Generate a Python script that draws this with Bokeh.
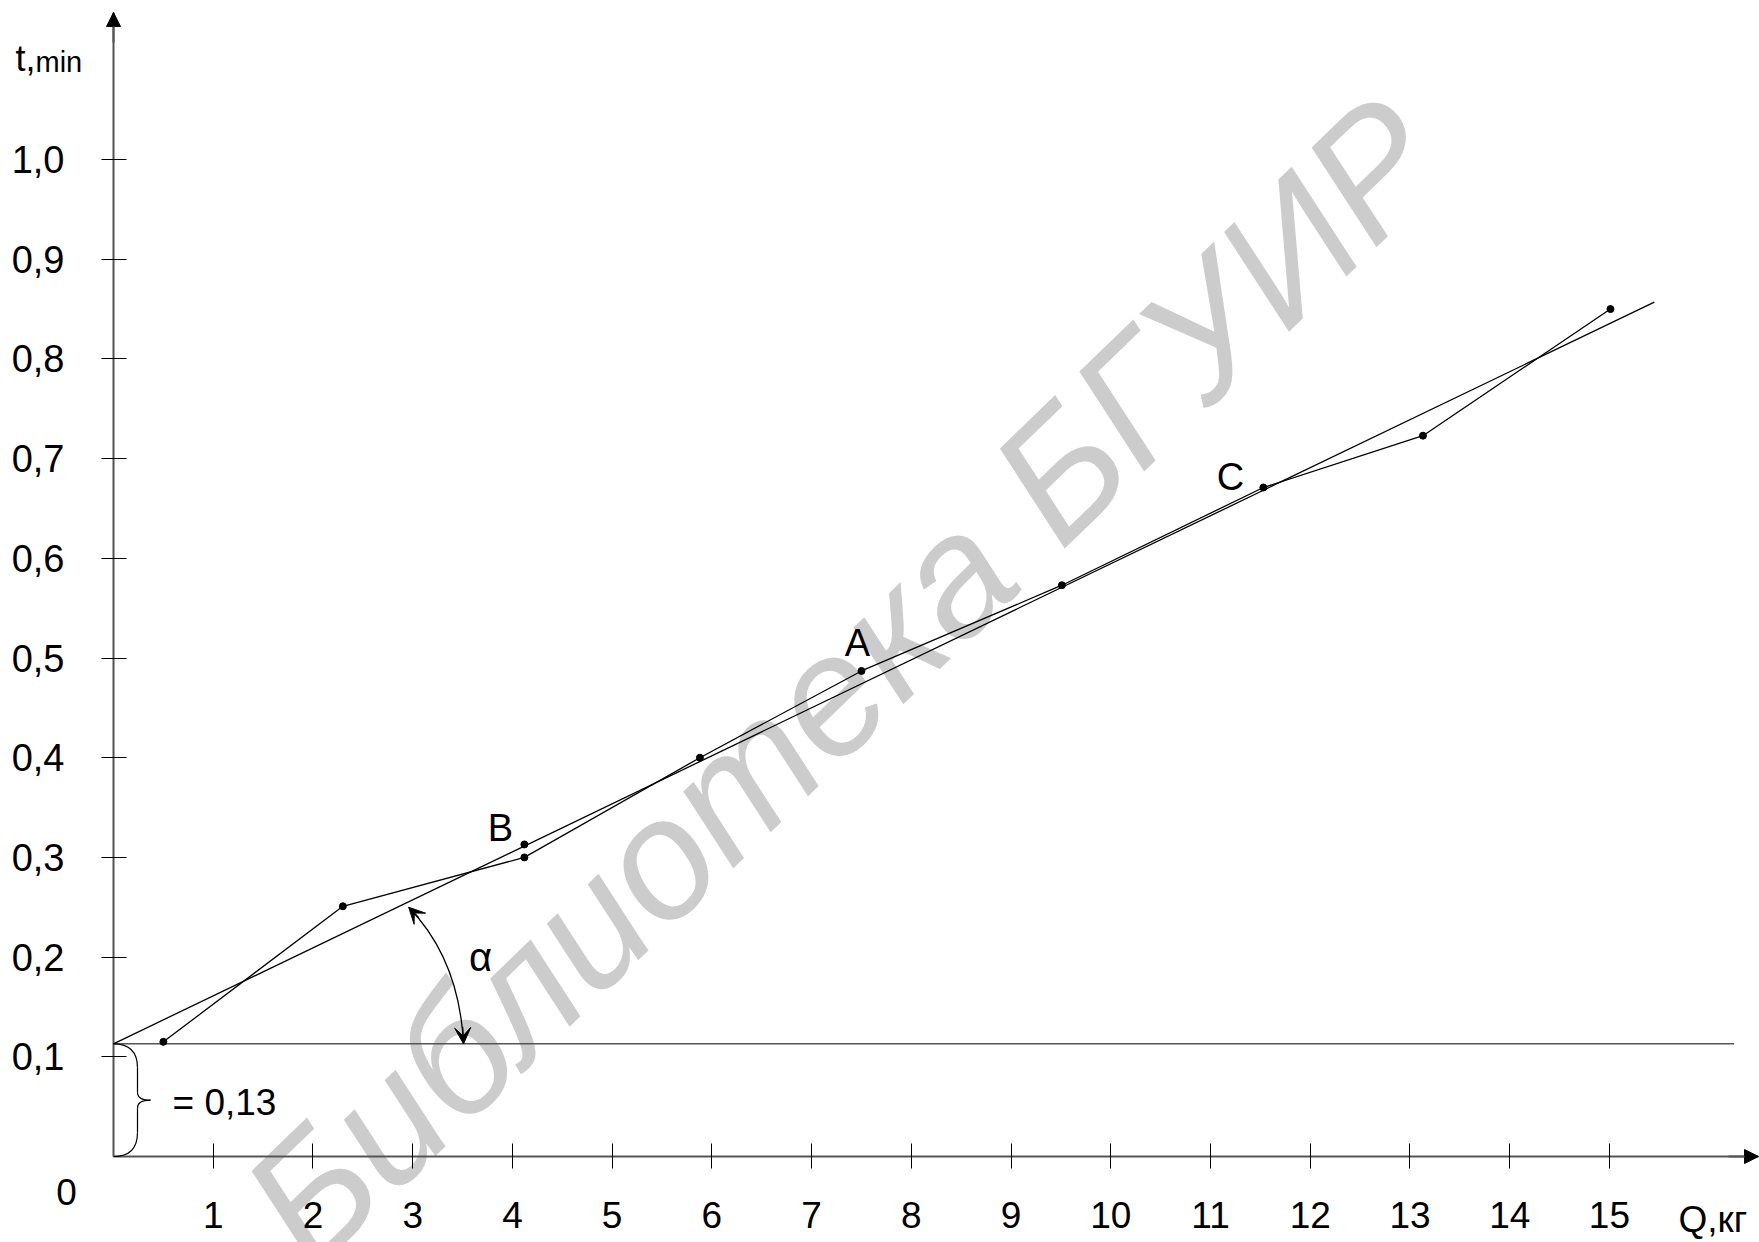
from bokeh.plotting import figure
from bokeh.models import Range1d, LinearAxis, FixedTicker, Label, Arrow, NormalHead, VeeHead
from bokeh.embed import file_html
from bokeh.resources import INLINE

# ---------------- data ----------------
Q_meas = [0.5, 2.3, 4.12, 5.88, 7.5, 9.51, 11.53, 13.13, 15.01]
t_meas = [0.115, 0.251, 0.300, 0.400, 0.487, 0.573, 0.671, 0.723, 0.850]
Q_fit = [0.0, 15.45]
t_fit = [0.113, 0.857]
t0 = 0.113            # intercept (baseline)
Q_base_end = 16.25
Q_B = [4.12]
t_B = [0.313]
# point labels: (text, Q, t, dx px, dy px up)
label_names = ["A", "B", "C"]
label_Q = [Q_meas[4], Q_B[0], Q_meas[6]]
label_t = [t_meas[4], t_B[0], t_meas[6]]
label_dx = [-4, -24, -33]
label_dy = [28, 16, 11]

x_ticks = list(range(1, 16))
y_ticks = [round(k / 10, 1) for k in range(1, 11)]
y_tick_labels = ["0,1", "0,2", "0,3", "0,4", "0,5", "0,6", "0,7", "0,8", "0,9", "1,0"]

FONT = "Liberation Sans"
AXIS_COL = "#555555"

W, H = 1759, 1242
OX, OY = 113, 1156      # origin position on canvas (px)
PX_X = 99.73            # px per unit Q
PX_Y = 997.0            # px per unit t
x_start, x_end = -OX / PX_X, (W - OX) / PX_X
y_start, y_end = -(H - OY) / PX_Y, OY / PX_Y
t_top = (OY - 12) / PX_Y     # y-axis arrow tip
Q_tip = (W - 1 - OX) / PX_X  # x-axis arrow tip

p = figure(width=W, height=H, x_range=Range1d(x_start, x_end), y_range=Range1d(y_start, y_end),
           output_backend="svg", toolbar_location=None,
           x_axis_type=None, y_axis_type=None,
           min_border_left=0, min_border_right=0, min_border_top=0, min_border_bottom=0)
p.grid.visible = False
p.outline_line_color = None
p.background_fill_color = "white"
p.border_fill_color = "white"

# watermark
wm = Label(x=7.31, y=0.477, text="Библиотека БГУИР", angle=44, angle_units="deg",
           text_align="center", text_baseline="middle", text_font=FONT,
           text_font_style="italic", text_font_size="170px", text_color="#cccccc",
           level="underlay")
p.add_layout(wm)

# axes (ticks and tick labels), placed at the origin
xaxis = LinearAxis(ticker=FixedTicker(ticks=x_ticks), fixed_location=0,
                   axis_line_color=None,
                   major_tick_in=13, major_tick_out=12,
                   major_tick_line_color="black", major_tick_line_width=1,
                   minor_tick_line_color=None,
                   major_label_text_font=FONT, major_label_text_font_size="37px",
                   major_label_text_color="black", major_label_standoff=33)
p.add_layout(xaxis, "below")

yaxis = LinearAxis(ticker=FixedTicker(ticks=y_ticks), fixed_location=0,
                   major_label_overrides={v: s for v, s in zip(y_ticks, y_tick_labels)},
                   axis_line_color=None,
                   major_tick_in=13, major_tick_out=12,
                   major_tick_line_color="black", major_tick_line_width=1,
                   minor_tick_line_color=None,
                   major_label_text_font=FONT, major_label_text_font_size="38px",
                   major_label_text_color="black", major_label_standoff=37)
p.add_layout(yaxis, "left")

# axis lines with arrow heads
p.segment(x0=[0, 0], y0=[0, 0], x1=[0, Q_tip], y1=[t_top, 0], line_color=AXIS_COL, line_width=2)
p.add_layout(Arrow(x_start=0, y_start=t_top - 0.03, x_end=0, y_end=t_top,
                   line_color=AXIS_COL, line_width=2,
                   end=NormalHead(size=14, fill_color="black", line_color="black")))
p.add_layout(Arrow(x_start=Q_tip - 0.3, y_start=0, x_end=Q_tip, y_end=0,
                   line_color=AXIS_COL, line_width=2,
                   end=NormalHead(size=14, fill_color="black", line_color="black")))

# baseline
p.segment(x0=[0], y0=[t0], x1=[Q_base_end], y1=[t0], line_color=AXIS_COL, line_width=1.5)

# fitted line and measured polyline
p.line(Q_fit, t_fit, line_color="black", line_width=1.3)
p.line(Q_meas, t_meas, line_color="black", line_width=1.3)
p.scatter(Q_meas, t_meas, size=7, color="black")
p.scatter(Q_B, t_B, size=7, color="black")

for name, q, t, dx, dy in zip(label_names, label_Q, label_t, label_dx, label_dy):
    p.add_layout(Label(x=q, y=t, x_offset=dx, y_offset=dy, text=name,
                       text_align="center", text_baseline="middle",
                       text_font=FONT, text_font_size="38px", text_color="black"))

# brace for intercept
bx = 24 / PX_X
tipx = 37 / PX_X
r = 24 / PX_Y
mid = t0 / 2
k = 8 / PX_Y
brace_kw = dict(line_color="black", line_width=1.2)
p.quadratic(x0=[0, bx], y0=[t0, mid + k], x1=[bx, tipx], y1=[t0 - r, mid],
            cx=[bx, bx], cy=[t0, mid], **brace_kw)
p.quadratic(x0=[tipx, bx], y0=[mid, r], x1=[bx, 0], y1=[mid - k, 0],
            cx=[bx, bx], cy=[mid, 0], **brace_kw)
p.segment(x0=[bx, bx], y0=[t0 - r, mid - k], x1=[bx, bx], y1=[mid + k, r], **brace_kw)

# angle alpha arc
a0 = (2.96, 0.250)
a1 = (3.51, t0)
ac = (3.465, 0.198)
p.quadratic(x0=[a0[0]], y0=[a0[1]], x1=[a1[0]], y1=[a1[1]], cx=[ac[0]], cy=[ac[1]],
            line_color="black", line_width=1.3)
f = 0.2
p.add_layout(Arrow(x_start=a0[0] + f * (ac[0] - a0[0]), y_start=a0[1] + f * (ac[1] - a0[1]),
                   x_end=a0[0], y_end=a0[1], line_color="black", line_width=1.3,
                   end=VeeHead(size=16, fill_color="black", line_color="black")))
p.add_layout(Arrow(x_start=a1[0] + f * (ac[0] - a1[0]), y_start=a1[1] + f * (ac[1] - a1[1]),
                   x_end=a1[0], y_end=a1[1], line_color="black", line_width=1.3,
                   end=VeeHead(size=16, fill_color="black", line_color="black")))
p.add_layout(Label(x=3.68, y=0.20, text="α", text_align="center", text_baseline="middle",
                   text_font=FONT, text_font_size="40px", text_color="black"))

# texts
p.add_layout(Label(x=0, y=0, x_offset=59, y_offset=54, text="= 0,13",
                   text_align="left", text_baseline="middle",
                   text_font=FONT, text_font_size="37px", text_color="black"))
p.add_layout(Label(x=0, y=0, x_offset=-47, y_offset=-35, text="0",
                   text_align="center", text_baseline="middle",
                   text_font=FONT, text_font_size="37px", text_color="black"))
p.add_layout(Label(x=0, y=t_top, x_offset=-98, y_offset=-46, text="t,",
                   text_align="left", text_baseline="middle",
                   text_font=FONT, text_font_size="36px", text_color="black"))
p.add_layout(Label(x=0, y=t_top, x_offset=-78, y_offset=-49, text="min",
                   text_align="left", text_baseline="middle",
                   text_font=FONT, text_font_size="29px", text_color="black"))
p.add_layout(Label(x=0, y=0, x_offset=1678 - OX, y_offset=-63, text="Q,кг",
                   text_align="left", text_baseline="middle",
                   text_font=FONT, text_font_size="37px", text_color="black"))

open("out.html", "w").write(file_html(p, INLINE))
